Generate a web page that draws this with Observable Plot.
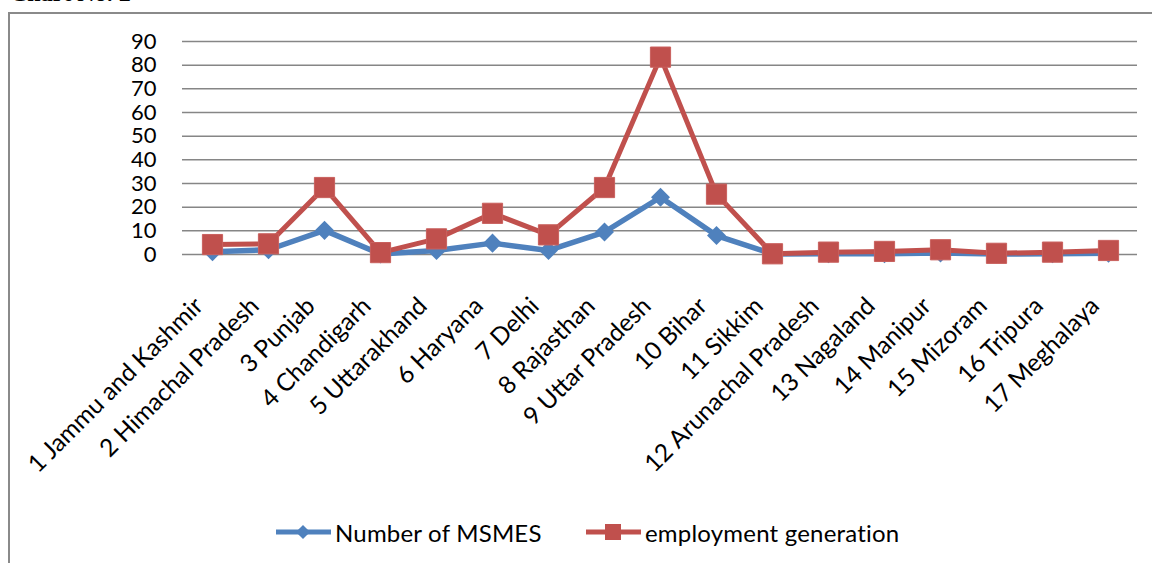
<!DOCTYPE html>
<html>
<head>
<meta charset="utf-8">
<script src="https://cdn.jsdelivr.net/npm/d3@7"></script>
<script src="https://cdn.jsdelivr.net/npm/@observablehq/plot@0.6"></script>
<style>
  html, body { margin: 0; padding: 0; background: #fff; overflow: hidden; }
  body { width: 1152px; height: 563px; position: relative; font-family: Lato, "Open Sans", sans-serif; }
  #heading { position: absolute; left: 10px; top: -19px; font: bold 24px "Liberation Serif", serif; color: #000; line-height: 24px; }
  #frame { position: absolute; left: 8px; top: 12px; width: 1200px; height: 600px; border: 2px solid #8a8a8a; box-sizing: border-box; }
  #chart { position: absolute; left: 0; top: 0; }
  #legend { position: absolute; top: 515px; left: 0; width: 1152px; height: 34px; }
  .item { position: absolute; top: 0; display: flex; align-items: center; height: 34px; font-size: 24px; color: #000; }
  .item svg { display: block; }
</style>
</head>
<body>
<div id="heading">Chart No. 2</div>
<div id="frame"></div>
<div id="chart"></div>
<div id="legend"></div>
<script>
// States, in the order they are listed
const states = [
  "1 Jammu and Kashmir", "2 Himachal Pradesh", "3 Punjab", "4 Chandigarh",
  "5 Uttarakhand", "6 Haryana", "7 Delhi", "8 Rajasthan", "9 Uttar Pradesh",
  "10 Bihar", "11 Sikkim", "12 Arunachal Pradesh", "13 Nagaland", "14 Manipur",
  "15 Mizoram", "16 Tripura", "17 Meghalaya"
];
// Number of MSMEs per state
const msmes = [1.2, 2.0, 10.2, 0.2, 1.7, 4.8, 1.7, 9.5, 24.2, 8.0, 0.2, 0.3, 0.3, 0.6, 0.2, 0.3, 0.5];
// Employment generated per state
const employment = [4.2, 4.5, 28.3, 0.8, 6.6, 17.4, 8.3, 28.3, 83.4, 25.5, 0.3, 1.0, 1.3, 2.0, 0.5, 1.0, 1.7];
// Value axis ticks
const yTicks = [0, 10, 20, 30, 40, 50, 60, 70, 80, 90];

const seriesNames = ["Number of MSMES", "employment generation"];
const blue = "#4F81BD";
const red = "#C0504D";

const rows = states.map((s, i) => ({state: s, msmes: msmes[i], employment: employment[i]}));

const chart = Plot.plot({
  width: 1152,
  height: 563,
  marginLeft: 182,
  marginRight: 15,
  marginTop: 41,
  marginBottom: 309,
  style: {fontFamily: "Lato, 'Open Sans', sans-serif", fontSize: "22px", color: "#000", background: "transparent", overflow: "visible"},
  x: {type: "point", domain: states, padding: 0.5, axis: null},
  y: {domain: [0, 90], axis: null},
  marks: [
    Plot.ruleY(yTicks, {stroke: "#868686", strokeWidth: 1.5}),
    Plot.axisY(yTicks, {tickSize: 0, tickPadding: 26, fontSize: 22, fill: "#000", label: null}),
    Plot.line(rows, {x: "state", y: "msmes", stroke: blue, strokeWidth: 5.5, strokeLinejoin: "round"}),
    Plot.dot(rows, {x: "state", y: "msmes", symbol: "square", rotate: 45, r: 7.6, fill: blue, stroke: null}),
    Plot.line(rows, {x: "state", y: "employment", stroke: red, strokeWidth: 5, strokeLinejoin: "round"}),
    Plot.dot(rows, {x: "state", y: "employment", symbol: "square", r: 11.4, fill: red, stroke: "#c9605d", strokeWidth: 1}),
    Plot.text(states, {x: d => d, frameAnchor: "bottom", rotate: -45, textAnchor: "end", dx: -8, dy: 53, fontSize: 24.5, fill: "#000"})
  ]
});
document.getElementById("chart").append(chart);

// Legend entries: line sample with marker, then the series name
const legend = d3.select("#legend");
const entries = [
  {name: seriesNames[0], color: blue, left: 276, diamond: true},
  {name: seriesNames[1], color: red, left: 586, diamond: false}
];
for (const e of entries) {
  const item = legend.append("div").attr("class", "item").style("left", e.left + "px");
  const svg = item.append("svg").attr("width", 56).attr("height", 34);
  svg.append("line").attr("x1", 0).attr("x2", 55).attr("y1", 17).attr("y2", 17)
    .attr("stroke", e.color).attr("stroke-width", 5);
  if (e.diamond) {
    svg.append("rect").attr("x", -5).attr("y", -5).attr("width", 10).attr("height", 10)
      .attr("fill", e.color).attr("transform", "translate(27,17) rotate(45)");
  } else {
    svg.append("rect").attr("x", 19).attr("y", 9).attr("width", 16).attr("height", 16).attr("fill", e.color);
  }
  item.append("span").style("margin-left", "3px").style("letter-spacing", "0.2px").text(e.name);
}
</script>
</body>
</html>
